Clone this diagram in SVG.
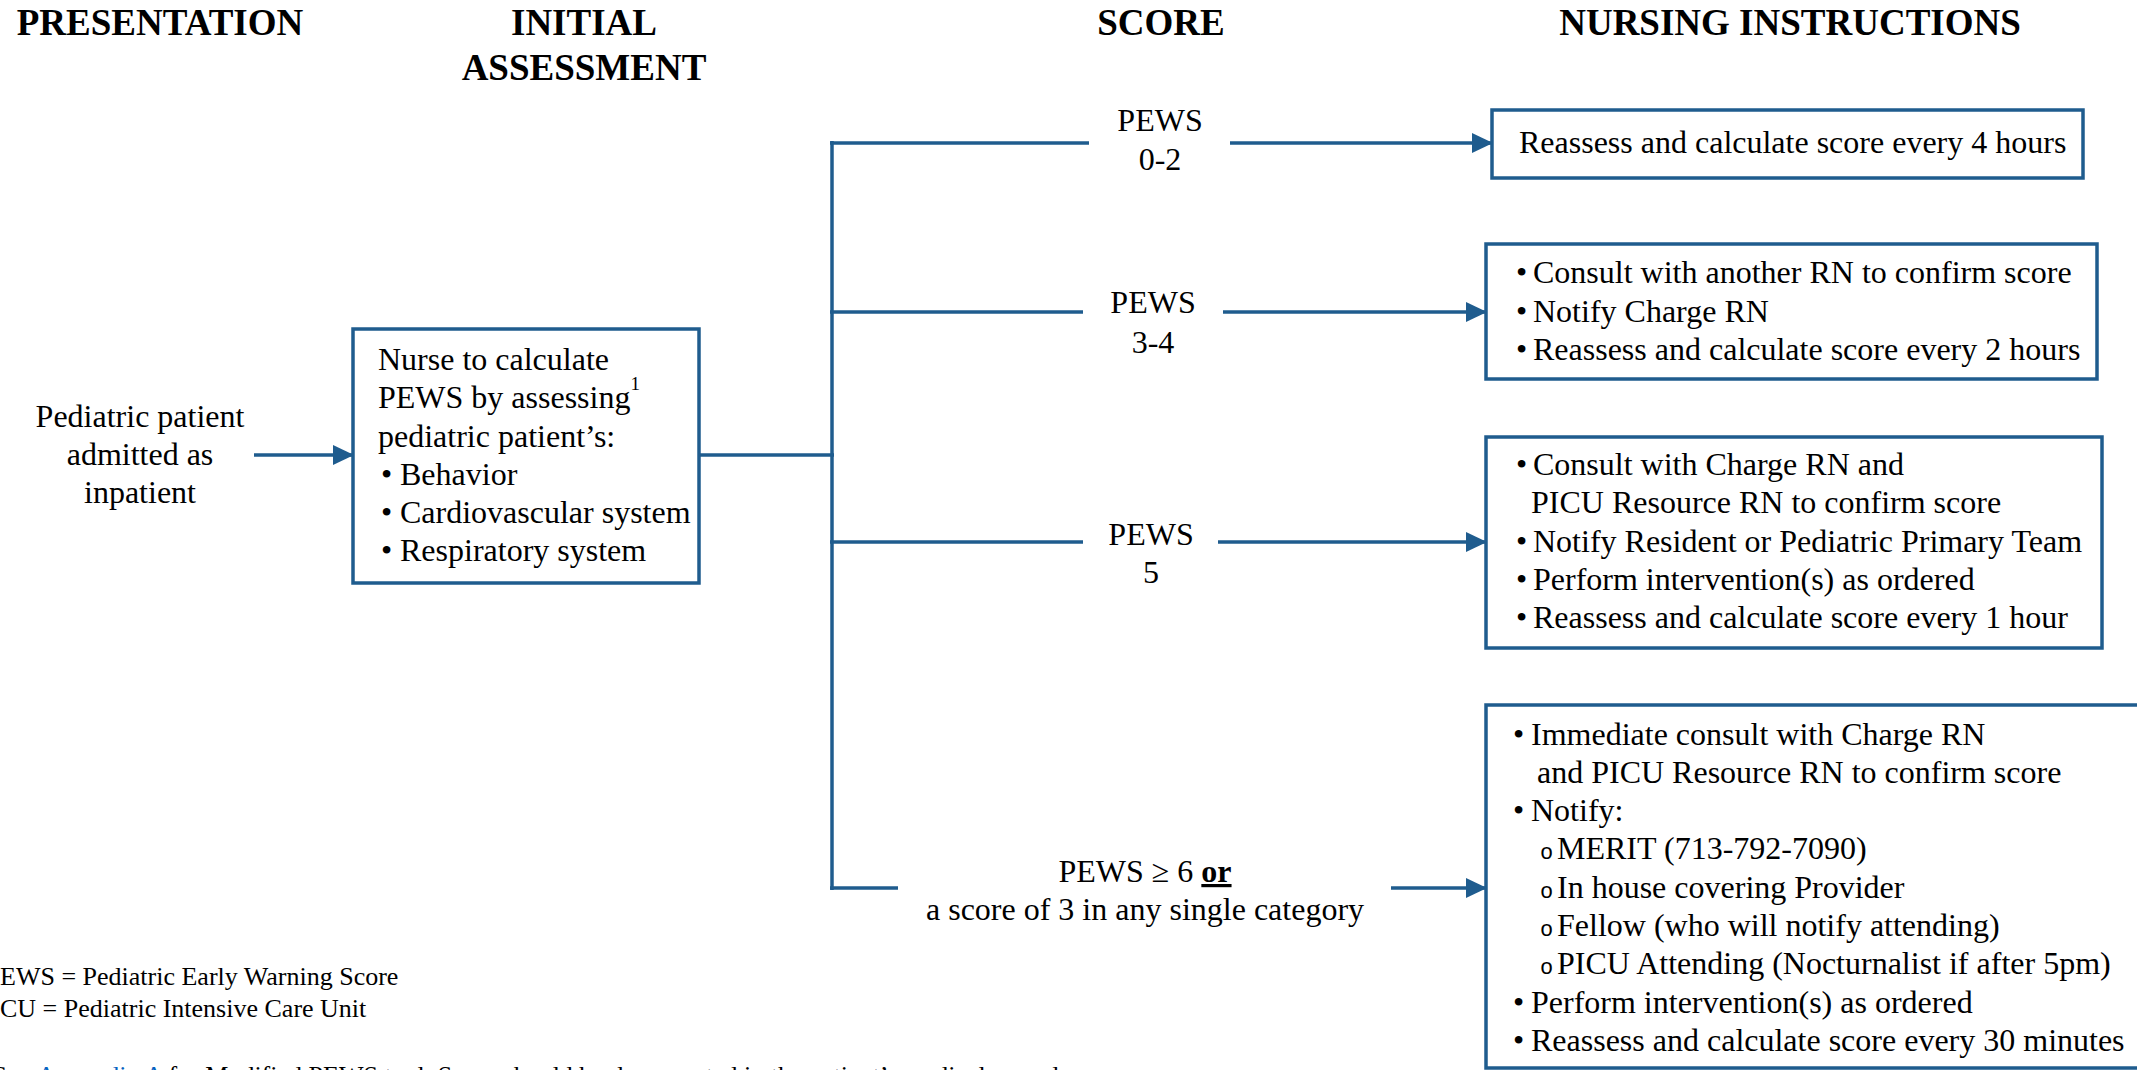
<svg xmlns="http://www.w3.org/2000/svg" width="2137" height="1070" viewBox="0 0 2137 1070">
<style>
text{font-family:"Liberation Serif","Times New Roman",serif;fill:#000;font-size:32px}
.h{font-weight:bold;font-size:37px;text-anchor:middle}
.c{text-anchor:middle}
.box{fill:#fff;stroke:#1f5c8e;stroke-width:3.5}
.ln{fill:none;stroke:#1f5c8e;stroke-width:3.5}
.ar{marker-end:url(#ah)}
.fn{font-size:26px}
.ring{font-family:"Liberation Mono","Courier New",monospace;font-size:22px}
</style>
<defs>
<marker id="ah" markerUnits="userSpaceOnUse" markerWidth="22" markerHeight="22" refX="20" refY="10" orient="auto" viewBox="0 0 22 20">
<path d="M0,0 L21,10 L0,20 Z" fill="#1f5c8e"/>
</marker>
</defs>
<rect width="2137" height="1070" fill="#fff"/>

<g id="headers">
<text class="h" x="160" y="35">PRESENTATION</text>
<text class="h" x="584" y="35">INITIAL</text>
<text class="h" x="584" y="80">ASSESSMENT</text>
<text class="h" x="1161" y="35">SCORE</text>
<text class="h" x="1790" y="35">NURSING INSTRUCTIONS</text>
</g>

<g id="connectors">
<line class="ln ar" x1="254" y1="455" x2="353" y2="455"/>
<line class="ln" x1="699" y1="455" x2="834" y2="455"/>
<line class="ln" x1="832" y1="141" x2="832" y2="890"/>
<line class="ln" x1="830" y1="143" x2="1089" y2="143"/>
<line class="ln ar" x1="1230" y1="143" x2="1492" y2="143"/>
<line class="ln" x1="830" y1="312" x2="1083" y2="312"/>
<line class="ln ar" x1="1223" y1="312" x2="1486" y2="312"/>
<line class="ln" x1="830" y1="542" x2="1083" y2="542"/>
<line class="ln ar" x1="1218" y1="542" x2="1486" y2="542"/>
<line class="ln" x1="830" y1="888" x2="898" y2="888"/>
<line class="ln ar" x1="1391" y1="888" x2="1486" y2="888"/>
</g>

<g id="presentation">
<text class="c" x="140" y="427">Pediatric patient</text>
<text class="c" x="140" y="465">admitted as</text>
<text class="c" x="140" y="503">inpatient</text>
</g>

<g id="assessment">
<rect class="box" x="353" y="329" width="346" height="254"/>
<text x="378" y="370">Nurse to calculate</text>
<text x="378" y="408">PEWS by assessing<tspan font-size="19" dy="-18">1</tspan></text>
<text x="378" y="447">pediatric patient’s:</text>
<text y="485"><tspan x="381">•</tspan><tspan x="400">Behavior</tspan></text>
<text y="523"><tspan x="381">•</tspan><tspan x="400">Cardiovascular system</tspan></text>
<text y="561"><tspan x="381">•</tspan><tspan x="400">Respiratory system</tspan></text>
</g>

<g id="score-0-2">
<text class="c" x="1160" y="131">PEWS</text>
<text class="c" x="1160" y="170">0-2</text>
</g>
<g id="score-3-4">
<text class="c" x="1153" y="313">PEWS</text>
<text class="c" x="1153" y="353">3-4</text>
</g>
<g id="score-5">
<text class="c" x="1151" y="545">PEWS</text>
<text class="c" x="1151" y="583">5</text>
</g>
<g id="score-6">
<text class="c" x="1145" y="882">PEWS ≥ 6 <tspan font-weight="bold" text-decoration="underline">or</tspan></text>
<text class="c" x="1145" y="920">a score of 3 in any single category</text>
</g>

<g id="instr-0-2">
<rect class="box" x="1492" y="110" width="591" height="68"/>
<text x="1519" y="153">Reassess and calculate score every 4 hours</text>
</g>

<g id="instr-3-4">
<rect class="box" x="1486" y="244" width="611" height="135"/>
<text y="283"><tspan x="1516">•</tspan><tspan x="1533">Consult with another RN to confirm score</tspan></text>
<text y="322"><tspan x="1516">•</tspan><tspan x="1533">Notify Charge RN</tspan></text>
<text y="360"><tspan x="1516">•</tspan><tspan x="1533">Reassess and calculate score every 2 hours</tspan></text>
</g>

<g id="instr-5">
<rect class="box" x="1486" y="437" width="616" height="211"/>
<text y="475"><tspan x="1516">•</tspan><tspan x="1533">Consult with Charge RN and</tspan></text>
<text x="1531" y="513">PICU Resource RN to confirm score</text>
<text y="552"><tspan x="1516">•</tspan><tspan x="1533">Notify Resident or Pediatric Primary Team</tspan></text>
<text y="590"><tspan x="1516">•</tspan><tspan x="1533">Perform intervention(s) as ordered</tspan></text>
<text y="628"><tspan x="1516">•</tspan><tspan x="1533">Reassess and calculate score every 1 hour</tspan></text>
</g>

<g id="instr-6">
<rect class="box" x="1486" y="705" width="680" height="363"/>
<text y="745"><tspan x="1513">•</tspan><tspan x="1531">Immediate consult with Charge RN</tspan></text>
<text x="1537" y="783">and PICU Resource RN to confirm score</text>
<text y="821"><tspan x="1513">•</tspan><tspan x="1531">Notify:</tspan></text>
<text class="ring" x="1540" y="859">o</text><text x="1557" y="859">MERIT (713-792-7090)</text>
<text class="ring" x="1540" y="898">o</text><text x="1557" y="898">In house covering Provider</text>
<text class="ring" x="1540" y="936">o</text><text x="1557" y="936">Fellow (who will notify attending)</text>
<text class="ring" x="1540" y="974">o</text><text x="1557" y="974">PICU Attending (Nocturnalist if after 5pm)</text>
<text y="1013"><tspan x="1513">•</tspan><tspan x="1531">Perform intervention(s) as ordered</tspan></text>
<text y="1051"><tspan x="1513">•</tspan><tspan x="1531">Reassess and calculate score every 30 minutes</tspan></text>
</g>

<g id="footnotes">
<text class="fn" x="0" y="985">EWS = Pediatric Early Warning Score</text>
<text class="fn" x="0" y="1017">CU = Pediatric Intensive Care Unit</text>
<text class="fn" x="30" y="1084" text-anchor="end">See</text>
<text class="fn" x="37" y="1084"><tspan fill="#0563c1">Appendix A</tspan> for Modified PEWS tool. Score should be documented in the patient’s medical record.</text>
</g>
</svg>
